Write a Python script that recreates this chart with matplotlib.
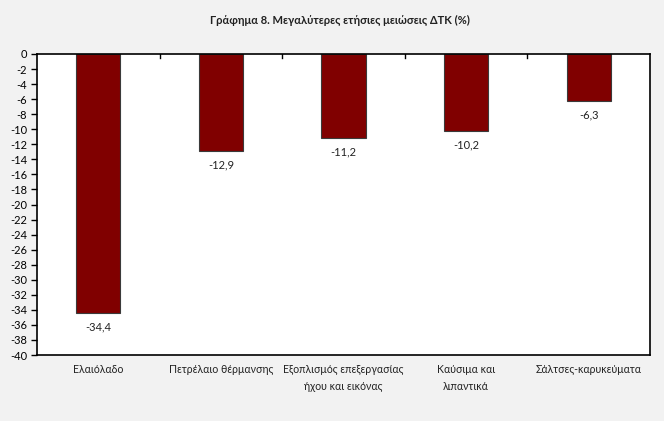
import matplotlib
matplotlib.use("Agg")
import matplotlib.pyplot as plt
import numpy as np

categories = ["Ελαιόλαδο", "Πετρέλαιο θέρμανσης", "Εξοπλισμός επεξεργασίας\nήχου και εικόνας",
              "Καύσιμα και\nλιπαντικά", "Σάλτσες-καρυκεύματα"]
values = [-34.4, -12.9, -11.2, -10.2, -6.3]
title = "Γράφημα 8. Μεγαλύτερες ετήσιες μειώσεις ΔΤΚ (%)"

plt.rcParams['font.family'] = ['Lato', 'DejaVu Sans']

fig = plt.figure(figsize=(6.64, 4.21), dpi=100, facecolor='#f2f2f2')
ax = fig.add_axes([37/664, 1-355/421, (650-37)/664, (355-54)/421])
ax.set_facecolor('white')

x = np.arange(len(values))
bars = ax.bar(x, values, width=0.36, color='#800000', edgecolor='#3a3a3a', linewidth=0.8, zorder=2)

for xi, v in zip(x, values):
    ax.text(xi, v - 1.1, f"{v:.1f}".replace('.', ','), ha='center', va='top', fontsize=8, color='#222222')

ax.set_xlim(-0.5, len(values) - 0.5)
ax.set_ylim(-40, 0)
ax.set_yticks(np.arange(-40, 1, 2))
ax.set_yticklabels([str(t) for t in range(-40, 1, 2)], fontsize=8)
ax.tick_params(axis='y', length=4, width=1, pad=3, color='black')

ax.set_xticks([])
# category ticks between bars on the zero line
for b in np.arange(0.5, len(values) - 0.5, 1):
    ax.plot([b, b], [0, -0.5], color='black', linewidth=1, zorder=3)

for xi, c in zip(x, categories):
    ax.text(xi, -41.2, c, ha='center', va='top', fontsize=7.6, color='#222222', linespacing=1.65,
            transform=ax.transData, clip_on=False)

for s in ax.spines.values():
    s.set_color('black')
    s.set_linewidth(1.2)

fig.text(340/664, 1-20/421, title, ha='center', va='center', fontsize=8, fontweight='bold', color='#222222')

fig.savefig("out.png", dpi=100, facecolor=fig.get_facecolor())
